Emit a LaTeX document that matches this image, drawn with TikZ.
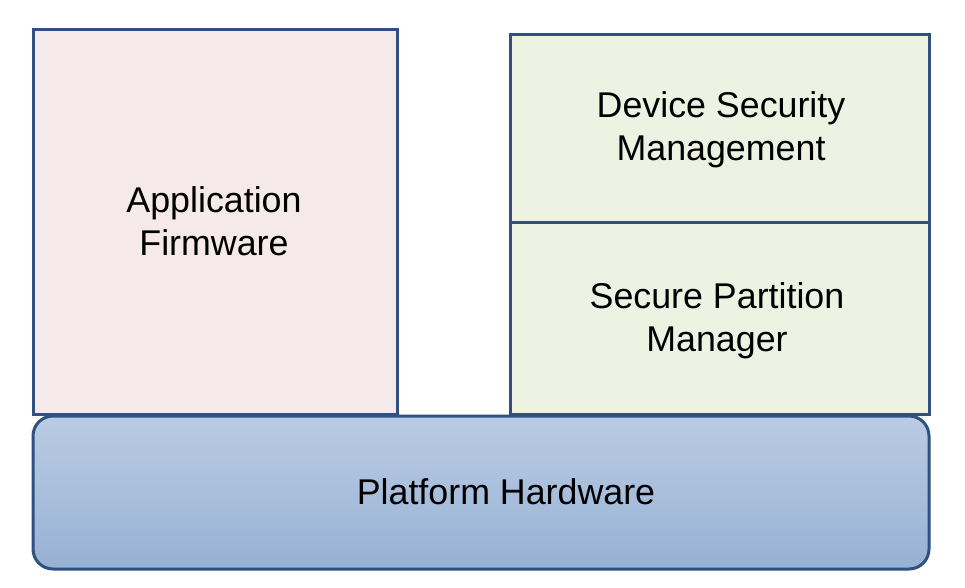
\documentclass[tikz,border=0pt]{standalone}
\usepackage{fontspec}
\setmainfont{Liberation Sans}
\definecolor{edge}{HTML}{2F5080}
\definecolor{pinkfill}{HTML}{F6E9E9}
\definecolor{greenfill}{HTML}{EEF2E3}
\definecolor{bluetop}{HTML}{BACCE3}
\definecolor{bluebot}{HTML}{97B1D4}
\begin{document}
\begin{tikzpicture}[x=1pt,y=-1pt,
  blk/.style={draw=edge,line width=3pt},
  lbl/.style={align=center,font=\fontsize{35.8}{43}\selectfont,text=black}]
\useasboundingbox[fill=white] (0,0) rectangle (965,588);
\path[blk,fill=pinkfill] (33,30) rectangle (397,414);
\node[lbl] (app) at (214,221) {Application\\Firmware};
\path[blk,fill=greenfill] (510,35) rectangle (929,222);
\node[lbl] (dsm) at (721,130) {Device Security\\Management};
\path[blk,fill=greenfill] (510,222) rectangle (929,414);
\node[lbl] (spm) at (717,321) {Secure Partition\\Manager};
\path[blk,top color=bluetop,bottom color=bluebot,rounded corners=20pt] (33,416) rectangle (929,569);
\node[lbl] (hw) at (506,492) {Platform Hardware};
\end{tikzpicture}
\end{document}
